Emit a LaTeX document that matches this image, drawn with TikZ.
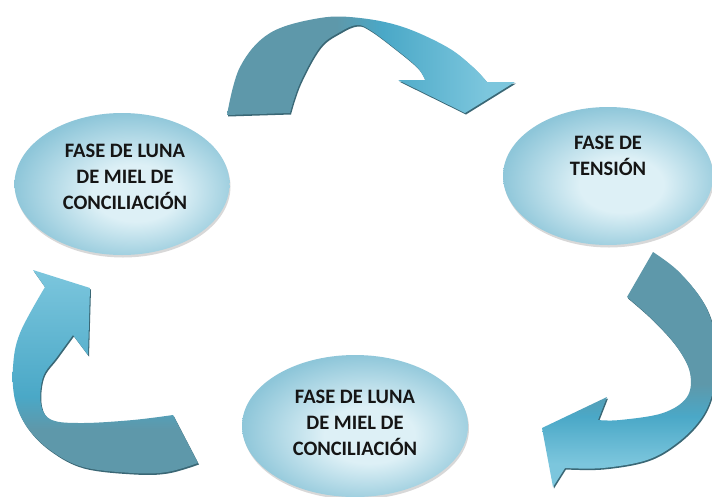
\documentclass[tikz,border=0pt]{standalone}
\usepackage{fontspec}
\setmainfont{Carlito}
\usetikzlibrary{shapes.geometric,shadows}
\definecolor{adk}{HTML}{5E98AA}
\definecolor{amd}{HTML}{4AA8C7}
\definecolor{alt}{HTML}{7CC6DD}
\definecolor{ash}{HTML}{3A6775}
\definecolor{eout}{HTML}{8EC6D9}
\definecolor{ein}{HTML}{DDF0F6}
\definecolor{txt}{HTML}{151515}
\pgfdeclarehorizontalshading{topshade}{100bp}{color(0bp)=(adk); color(44bp)=(adk); color(52bp)=(amd); color(70bp)=(alt); color(100bp)=(alt)}
\pgfdeclareverticalshading{rightshade}{100bp}{color(0bp)=(alt); color(30bp)=(alt); color(40bp)=(amd); color(47bp)=(adk); color(100bp)=(adk)}
\pgfdeclareverticalshading{leftshade}{100bp}{color(0bp)=(adk); color(36bp)=(adk); color(44bp)=(amd); color(75bp)=(alt); color(100bp)=(alt)}
\pgfdeclareradialshading{ellshade}{\pgfpoint{4bp}{-4bp}}{color(0bp)=(ein); color(10bp)=(ein); color(27bp)=(eout); color(50bp)=(eout)}
\tikzset{
  blockarrow/.style={drop shadow={shadow xshift=1pt,shadow yshift=-1.5pt,fill=ash,opacity=1}},
  phase/.style={ellipse, shading=ellshade, inner sep=0pt,
    drop shadow={shadow xshift=1pt,shadow yshift=-2.5pt,fill=gray,opacity=.3}},
  phasetext/.style={align=center, text=txt, inner sep=0pt,
    font=\fontsize{20.5}{26}\selectfont\bfseries},
}
\begin{document}
\begin{tikzpicture}[x=1pt,y=-1pt]
\useasboundingbox (0,0) rectangle (712,496);
\fill[white] (0,0) rectangle (712,496);
\begin{scope}
\clip (0,0) rectangle (712,496);
% top arrow
\path[blockarrow, shading=topshade] (227,115) -- plot[smooth,tension=.6] coordinates {(227,115) (240,67) (270,33) (320,18) (360,18) (403,27) (447,47) (473,67) (487,82)} -- (515,82) -- (465,113) -- (398,80) -- plot[smooth,tension=.6] coordinates {(425,80) (417,67) (393,47) (370,30) (357,25) (340,32) (320,47) (300,83) (290,113)} -- cycle;
% right arrow
\path[blockarrow, shading=rightshade] (653,252) -- plot[smooth,tension=.6] coordinates {(653,252) (677,270) (700,297) (712,323) (718,360) (712,395) (700,420) (677,443) (647,460) (603,468) (565,468)} -- (553,487) -- (542,428) -- (607,397) -- plot[smooth,tension=.6] coordinates {(598,420) (620,420) (663,413) (687,397) (690,373) (677,347) (653,320) (627,297)} -- cycle;
% left arrow
\path[blockarrow, shading=leftshade] (198,463) -- (173,415) -- plot[smooth,tension=.6] coordinates {(173,415) (133,420) (83,423) (52,420) (41,405) (43,377) (57,357) (73,335)} -- (88,355) -- (90,288) -- (33,270) -- plot[smooth,tension=.6] coordinates {(45,287) (20,333) (13,367) (15,400) (27,427) (50,450) (83,467) (133,473) (167,472) (198,463)} -- cycle;
% phases
\node[phase, minimum width=215pt, minimum height=142pt] (e1) at (122,184) {};
\node[phase, minimum width=210pt, minimum height=138pt] (e2) at (608,176) {};
\node[phase, minimum width=226pt, minimum height=142pt] (e3) at (355,426) {};
\node[phasetext] (t1) at (125,177) {FASE DE LUNA\\DE MIEL DE\\CONCILIACIÓN};
\node[phasetext] (t2) at (608,155.5) {FASE DE\\TENSIÓN};
\node[phasetext] (t3) at (355,423) {FASE DE LUNA\\DE MIEL DE\\CONCILIACIÓN};
\end{scope}
\end{tikzpicture}
\end{document}
